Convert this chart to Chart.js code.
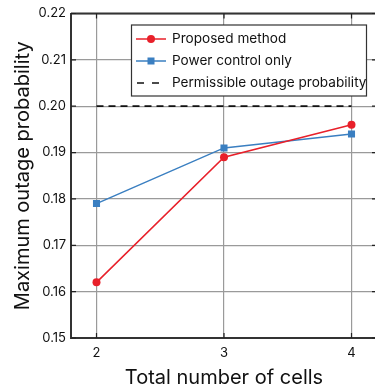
<!DOCTYPE html>
<html>
<head>
<meta charset="utf-8">
<script src="https://cdn.jsdelivr.net/npm/chart.js@4"></script>
<style>
  html, body { margin: 0; padding: 0; background: #fff; overflow: hidden; }
  #wrap { width: 382px; height: 392px; }
</style>
</head>
<body>
<div id="wrap"><canvas id="lineChart"></canvas></div>
<script>
const cells = [2, 3, 4];
const proposed = [0.162, 0.189, 0.196];
const powerOnly = [0.179, 0.191, 0.194];
const permissible = [0.20, 0.20, 0.20];
const yTicks = [0.15, 0.16, 0.17, 0.18, 0.19, 0.20, 0.21, 0.22];

const RED = '#e8202a';
const BLUE = '#3a7fc1';
const FONT = 'Inter, "Noto Sans", sans-serif';

const toXY = arr => arr.map((v, i) => ({ x: cells[i], y: v }));

// inward tick marks and dark top frame
const innerTicks = {
    id: 'innerTicks',
    afterDraw(chart) {
        const { ctx, chartArea: a, scales: { x, y } } = chart;
        ctx.save();
        ctx.strokeStyle = '#333';
        ctx.lineWidth = 2;
        ctx.beginPath();
        ctx.moveTo(a.left, a.top); ctx.lineTo(a.right, a.top);
        ctx.lineTo(a.right, a.bottom);
        ctx.stroke();
        ctx.strokeStyle = '#222';
        ctx.lineWidth = 1.2;
        ctx.beginPath();
        yTicks.forEach(v => {
            const py = y.getPixelForValue(v);
            ctx.moveTo(a.left, py); ctx.lineTo(a.left + 5, py);
            ctx.moveTo(a.right, py); ctx.lineTo(a.right - 5, py);
        });
        cells.forEach(v => {
            const px = x.getPixelForValue(v);
            ctx.moveTo(px, a.bottom); ctx.lineTo(px, a.bottom - 5);
            ctx.moveTo(px, a.top); ctx.lineTo(px, a.top + 5);
        });
        ctx.stroke();
        ctx.restore();
    }
};

// boxed legend inside the plot
const boxLegend = {
    id: 'boxLegend',
    afterDraw(chart) {
        const ctx = chart.ctx;
        const bx = 131.5, by = 25, bw = 235, bh = 71;
        ctx.save();
        ctx.fillStyle = '#fff';
        ctx.fillRect(bx, by, bw, bh);
        ctx.strokeStyle = '#333';
        ctx.lineWidth = 1.2;
        ctx.strokeRect(bx, by, bw, bh);
        const rows = [39, 61, 83];
        chart.data.datasets.forEach((ds, i) => {
            const ry = rows[i];
            ctx.strokeStyle = ds.borderColor;
            ctx.lineWidth = 1.5;
            ctx.beginPath();
            if (ds.borderDash) {
                ctx.setLineDash([7, 8]);
                ctx.moveTo(137, ry); ctx.lineTo(166, ry);
            } else {
                ctx.moveTo(136, ry); ctx.lineTo(166, ry);
            }
            ctx.stroke();
            ctx.setLineDash([]);
            ctx.fillStyle = ds.borderColor;
            if (ds.pointStyle === 'circle' && ds.pointRadius > 0) {
                ctx.beginPath();
                ctx.arc(151, ry, 4, 0, Math.PI * 2);
                ctx.fill();
            } else if (ds.pointStyle === 'rect') {
                ctx.fillRect(147.5, ry - 3.5, 7, 7);
            }
            ctx.fillStyle = '#111';
            ctx.font = '13.6px ' + FONT;
            ctx.textBaseline = 'middle';
            ctx.fillText(ds.label, 172, ry);
        });
        ctx.restore();
    }
};

new Chart(document.getElementById('lineChart'), {
    type: 'line',
    data: {
        datasets: [
            {
                label: 'Proposed method',
                data: toXY(proposed),
                borderColor: RED,
                backgroundColor: RED,
                borderWidth: 1.5,
                pointStyle: 'circle',
                pointRadius: 4,
                pointBorderWidth: 0
            },
            {
                label: 'Power control only',
                data: toXY(powerOnly),
                borderColor: BLUE,
                backgroundColor: BLUE,
                borderWidth: 1.5,
                pointStyle: 'rect',
                pointRadius: 5,
                pointBorderWidth: 0
            },
            {
                label: 'Permissible outage probability',
                data: toXY(permissible),
                borderColor: '#111',
                backgroundColor: '#111',
                borderWidth: 1.8,
                borderDash: [7, 5],
                pointStyle: 'circle',
                pointRadius: 0
            }
        ]
    },
    options: {
        responsive: true,
        maintainAspectRatio: false,
        animation: false,
        layout: { padding: { top: 13.5, right: 3, left: 0, bottom: 0 } },
        plugins: { legend: { display: false }, tooltip: { enabled: false } },
        scales: {
            x: {
                type: 'linear',
                min: 1.8,
                max: 4.2,
                afterBuildTicks: s => { s.ticks = cells.map(v => ({ value: v })); },
                afterFit: s => { s.height = 54; },
                grid: { color: '#9a9a9a', lineWidth: 1.2, drawTicks: false },
                border: { color: '#333', width: 2 },
                ticks: { color: '#111', padding: 7, font: { family: FONT, size: 13 } },
                title: {
                    display: true,
                    text: 'Total number of cells',
                    color: '#111',
                    font: { family: FONT, size: 20 },
                    padding: { top: 0, bottom: 2 }
                }
            },
            y: {
                min: 0.15,
                max: 0.22,
                afterBuildTicks: s => { s.ticks = yTicks.map(v => ({ value: v })); },
                afterFit: s => { s.width = 71; },
                grid: { color: '#9a9a9a', lineWidth: 1.2, drawTicks: false },
                border: { color: '#333', width: 2 },
                ticks: {
                    color: '#111',
                    padding: 5,
                    font: { family: FONT, size: 13 },
                    callback: v => v.toFixed(2)
                },
                title: {
                    display: true,
                    text: 'Maximum outage probability',
                    color: '#111',
                    font: { family: FONT, size: 20 },
                    padding: { top: 11, bottom: 0 }
                }
            }
        }
    },
    plugins: [innerTicks, boxLegend]
});
</script>
</body>
</html>
